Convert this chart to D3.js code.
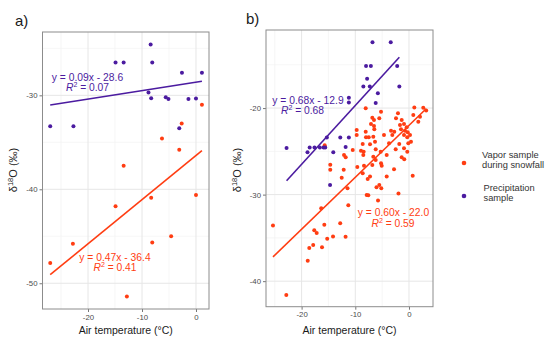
<!DOCTYPE html>
<html><head><meta charset="utf-8">
<script src="https://cdn.jsdelivr.net/npm/d3@7"></script>
<style>
body{margin:0;background:#fff;}
svg{display:block;font-family:"Liberation Sans",Arial,sans-serif;}
</style></head>
<body><svg id="c" width="550" height="342"></svg>
<script>
// ---------- DATA ----------
const seriesNames = ["Vapor sample during snowfall", "Precipitation sample"];
const xTicks = [-20, -10, 0];
const yTicksA = [-50, -40, -30];
const yTicksB = [-40, -30, -20];

// Panel a
const vaporA = [[-27.0,-47.85],[-22.8,-45.8],[-14.9,-41.8],[-13.4,-37.5],[-12.8,-51.4],[-8.3,-40.9],[-8.1,-45.65],[-6.3,-34.6],[-4.6,-45.0],[-3.1,-35.8],[-2.65,-33.0],[0.0,-40.6],[1.1,-31.0]];
const precipA = [[-27.0,-33.3],[-22.7,-33.3],[-14.9,-26.5],[-13.4,-26.5],[-8.4,-24.6],[-8.1,-26.5],[-2.6,-27.6],[1.1,-27.6],[-8.8,-29.7],[-8.3,-30.3],[-5.6,-30.2],[-5.1,-30.4],[-1.4,-30.4],[0.0,-30.35],[-3.1,-33.5]];
// Panel b
const vaporB = [[-8.06,-20.03],[-5.21,-20.43],[-2.05,-20.61],[0.99,-19.92],[2.66,-19.97],[3.2,-20.27],
[-6.83,-21.12],[-6.52,-21.38],[-5.53,-21.19],[-2.42,-21.19],[-1.36,-21.38],[0.80,-20.81],[2.05,-21.0],
[-7.08,-21.85],[-6.52,-22.08],[-1.68,-21.96],[-0.93,-21.85],[-0.43,-22.23],[1.73,-21.58],
[-9.74,-22.54],[-8.06,-22.73],[-6.46,-22.46],[-3.35,-22.62],[-2.74,-22.73],[-1.49,-22.46],[-0.74,-22.62],[-0.24,-22.80],[0.19,-23.11],
[-9.74,-23.11],[-8.01,-23.38],[-7.50,-23.38],[-6.65,-23.31],[-4.66,-23.11],[-3.11,-23.11],[-0.93,-23.11],[-0.32,-23.38],
[-6.33,-23.89],[-8.62,-24.15],[-7.26,-24.19],[-3.72,-24.07],[-1.81,-24.15],[-0.13,-24.07],[0.37,-23.89],
[-10.48,-24.84],[-8.94,-24.92],[-8.44,-25.04],[-6.20,-24.76],[-5.27,-25.04],[-2.48,-24.76],[-0.93,-24.65],[-0.32,-25.04],
[-12.10,-25.42],[-11.79,-25.69],[-8.51,-25.42],[-6.65,-25.62],[-6.20,-26.0],[-4.15,-25.42],[-1.36,-25.69],[-0.88,-25.92],
[-14.66,-26.54],[-14.66,-27.12],[-12.16,-27.12],[-9.63,-26.81],[-8.38,-26.66],[-6.83,-26.57],[-5.21,-26.38],[-5.08,-26.66],[-2.79,-27.07],
[-8.62,-27.53],[-12.53,-28.04],[-7.26,-27.92],[0.69,-27.81],[-7.69,-28.19],[-4.15,-27.92],
[-11.45,-29.26],[-5.53,-28.88],[-6.05,-29.15],[-5.16,-29.26],[-7.88,-30.03],[-7.58,-30.07],[-1.96,-29.88],[-5.77,-30.69],
[-11.30,-31.22],[-16.35,-31.57],[-12.81,-33.30],[-15.77,-33.49],[-17.64,-34.13],[-17.19,-34.44],[-11.81,-34.88],[-14.15,-34.84],[-15.23,-35.11],[-17.84,-35.83],[-18.57,-36.18],[-16.20,-36.07],[-18.86,-37.65],[-25.33,-33.58],[-22.85,-41.60],[-15.7,-24.3]];
const precipB = [[-6.8,-12.4],[-3.4,-12.4],[-8.0,-15.15],[-7.1,-15.15],[-2.2,-15.15],[-7.8,-16.6],[-8.5,-17.5],[-7.3,-17.5],[-1.8,-17.5],[-5.8,-18.3],[-11.2,-18.8],[-11.2,-19.35],[-6.2,-19.4],[-15.3,-23.4],[-12.8,-23.4],[-11.2,-23.4],[-22.8,-24.6],[-18.5,-24.55],[-17.6,-24.55],[-16.6,-24.55],[-15.9,-24.55],[-15.6,-24.55],[-11.8,-24.5],[-18.9,-25.1],[-14.1,-25.1],[-14.7,-28.9]];

// regression fits [slope, intercept, R2]
const fitVaporA = [0.47, -36.4, 0.41];
const fitPrecipA = [0.09, -28.6, 0.07];
const fitVaporB = [0.60, -22.0, 0.59];
const fitPrecipB = [0.68, -12.9, 0.68];
const eqLabels = {vaporA:"y = 0.47x - 36.4", precipA:"y = 0.09x - 28.6", vaporB:"y = 0.60x - 22.0", precipB:"y = 0.68x - 12.9"};
const r2Labels = {vaporA:"0.41", precipA:"0.07", vaporB:"0.59", precipB:"0.68"};

// ---------- STYLE ----------
const RED = "#ff3d12", PURPLE = "#4b1ba0";
const svg = d3.select("#c");

function panel(cfg){
  const x = d3.scaleLinear().domain(cfg.xd).range([cfg.l, cfg.r]);
  const y = d3.scaleLinear().domain(cfg.yd).range([cfg.b, cfg.t]);
  const g = svg.append("g");
  // minor grid
  const xMinor = xTicks.map(v=>v-5).filter(v=>v>cfg.xd[0]&&v<cfg.xd[1]);
  const yMinor = cfg.yTicks.map(v=>v+5).concat(cfg.yTicks.map(v=>v-5)).filter((v,i,a)=>a.indexOf(v)===i && !cfg.yTicks.includes(v) && v>cfg.yd[0]&&v<cfg.yd[1]);
  g.selectAll(".xm").data(xMinor).join("line").attr("x1",d=>x(d)).attr("x2",d=>x(d)).attr("y1",cfg.t).attr("y2",cfg.b).attr("stroke","#f2f2f2").attr("stroke-width",0.7);
  g.selectAll(".ym").data(yMinor).join("line").attr("y1",d=>y(d)).attr("y2",d=>y(d)).attr("x1",cfg.l).attr("x2",cfg.r).attr("stroke","#f2f2f2").attr("stroke-width",0.7);
  g.selectAll(".xg").data(xTicks).join("line").attr("x1",d=>x(d)).attr("x2",d=>x(d)).attr("y1",cfg.t).attr("y2",cfg.b).attr("stroke","#e6e6e6").attr("stroke-width",1);
  g.selectAll(".yg").data(cfg.yTicks).join("line").attr("y1",d=>y(d)).attr("y2",d=>y(d)).attr("x1",cfg.l).attr("x2",cfg.r).attr("stroke","#e6e6e6").attr("stroke-width",1);

  // axes
  const ax = g.append("g").attr("transform",`translate(0,${cfg.b})`).call(d3.axisBottom(x).tickValues(xTicks).tickSize(3).tickPadding(2).tickFormat(d3.format("d")));
  const ay = g.append("g").attr("transform",`translate(${cfg.l},0)`).call(d3.axisLeft(y).tickValues(cfg.yTicks).tickSize(3).tickPadding(2).tickFormat(d3.format("d")));
  [ax,ay].forEach(a=>{a.select(".domain").remove(); a.selectAll("line").attr("stroke","#777");
    a.selectAll("text").attr("fill","#4d4d4d").style("font-size","7.8px").style("font-family","'Liberation Sans',Arial,sans-serif");});
  ax.selectAll("text").text(d=>d===0?"0":"-"+Math.abs(d));
  ay.selectAll("text").text(d=>"-"+Math.abs(d));

  // border
  g.append("rect").attr("x",cfg.l).attr("y",cfg.t).attr("width",cfg.r-cfg.l).attr("height",cfg.b-cfg.t).attr("fill","none").attr("stroke","#8c8c8c").attr("stroke-width",1);

  // fit lines
  const line = d3.line().x(d=>x(d[0])).y(d=>y(d[1]));
  cfg.series.forEach(s=>{
    const ext = d3.extent(s.data, d=>d[0]);
    g.append("path").attr("d", line(ext.map(v=>[v, s.fit[0]*v + s.fit[1]]))).attr("stroke", s.color).attr("stroke-width",1.6).attr("fill","none");
  });
  // points
  cfg.series.forEach(s=>{
    g.append("g").selectAll("circle").data(s.data).join("circle").attr("cx",d=>x(d[0])).attr("cy",d=>y(d[1])).attr("r",2).attr("fill",s.color);
  });
  // equation labels
  cfg.series.forEach(s=>{
    g.append("text").attr("x",s.lx).attr("y",s.ly).attr("text-anchor","middle").attr("fill",s.color).style("font-size","10.3px").text(s.eq);
    const t = g.append("text").attr("x",s.lx+s.dr).attr("y",s.ly+10.5).attr("text-anchor","middle").attr("fill",s.color).style("font-size","10.3px");
    t.append("tspan").attr("font-style","italic").text("R");
    t.append("tspan").attr("dy",-4).style("font-size","7px").text("2");
    t.append("tspan").attr("dy",4).text(" = "+s.r2);
  });
  // axis titles
  svg.append("text").attr("x",(cfg.l+cfg.r)/2+cfg.xtOff).attr("y",334).attr("text-anchor","middle").attr("fill","#1a1a1a").style("font-size","10.5px").text("Air temperature (°C)");
  const yt = svg.append("text").attr("transform",`translate(${cfg.ytx},${170}) rotate(-90)`).attr("text-anchor","middle").attr("fill","#1a1a1a").style("font-size","11px");
  yt.append("tspan").text("δ");
  yt.append("tspan").attr("dy",-4).style("font-size","7.5px").text("18");
  yt.append("tspan").attr("dy",4).text("O (‰)");
  svg.append("text").attr("x",cfg.labx).attr("y",cfg.laby).attr("fill","#1a1a1a").style("font-size","15px").text(cfg.label);
}

panel({l:42.5, r:209, t:32, b:309, xd:[-28.43,2.41], yd:[-52.74,-23.26], yTicks:yTicksA, label:"a)", labx:15, laby:26, ytx:17, xtOff:0,
  series:[
    {data:vaporA, fit:fitVaporA, color:RED, eq:eqLabels.vaporA, r2:r2Labels.vaporA, lx:115, ly:260.5, dr:0},
    {data:precipA, fit:fitPrecipA, color:PURPLE, eq:eqLabels.precipA, r2:r2Labels.precipA, lx:87.5, ly:80.5, dr:0}
  ]});
panel({l:266, r:433, t:30, b:306.7, xd:[-26.63,4.47], yd:[-42.95,-10.98], yTicks:yTicksB, label:"b)", labx:246, laby:24, ytx:241, xtOff:0,
  series:[
    {data:vaporB, fit:fitVaporB, color:RED, eq:eqLabels.vaporB, r2:r2Labels.vaporB, lx:393.5, ly:216.3, dr:-0.5},
    {data:precipB, fit:fitPrecipB, color:PURPLE, eq:eqLabels.precipB, r2:r2Labels.precipB, lx:308, ly:103.8, dr:-5.5}
  ]});

// legend
const leg = svg.append("g");
const legendColors = [RED, PURPLE];
const legendLines = [["Vapor sample","during snowfall"],["Precipitation","sample"]];
const legY = [163, 196];
seriesNames.forEach((n,i)=>{
  leg.append("circle").attr("cx",464).attr("cy",legY[i]).attr("r",2.3).attr("fill",legendColors[i]);
  const t = leg.append("text").attr("x",i===0?482:483.5).attr("y",legY[i]-5.5).attr("fill","#333").style("font-size","9.3px");
  legendLines[i].forEach((l,j)=>t.append("tspan").attr("x",i===0?482:483.5).attr("dy",j===0?0:10.3).text(l));
});
</script></body></html>
